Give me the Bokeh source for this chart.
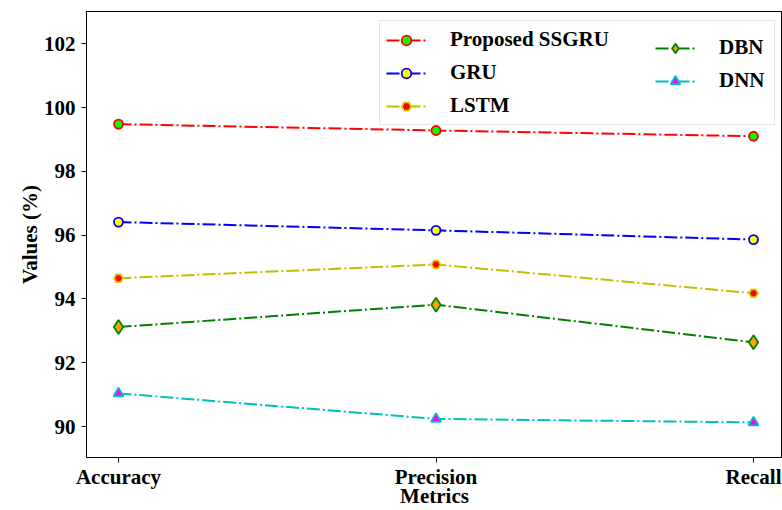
from bokeh.plotting import figure
from bokeh.models import Range1d, FixedTicker, Legend, LegendItem
from bokeh.embed import file_html
from bokeh.resources import INLINE

metrics = ["Accuracy", "Precision", "Recall"]
ssgru = [99.48, 99.28, 99.10]
gru = [96.41, 96.15, 95.86]
lstm = [94.65, 95.08, 94.18]
dbn = [93.12, 93.82, 92.64]
dnn = [91.04, 90.24, 90.13]
yticks = [90, 92, 94, 96, 98, 100, 102]

FONT = "Liberation Serif"
FS = "21px"

xs = list(range(len(metrics)))

p = figure(width=782, height=510, output_backend="svg", toolbar_location=None,
           x_range=Range1d(-0.1008, 2.0913), y_range=Range1d(89.03, 103.01),
           min_border_left=86, min_border_right=0, min_border_top=11,
           min_border_bottom=0)
p.outline_line_color = "black"
p.outline_line_width = 1
p.grid.visible = False
p.background_fill_color = "white"

# axes
p.xaxis.ticker = FixedTicker(ticks=xs)
p.xaxis.major_label_overrides = {i: m for i, m in enumerate(metrics)}
p.yaxis.ticker = FixedTicker(ticks=yticks)
p.xaxis.axis_label = "Metrics"
p.yaxis.axis_label = "Values (%)"
for ax in [p.xaxis[0], p.yaxis[0]]:
    ax.axis_line_color = "black"
    ax.axis_line_width = 1
    ax.major_tick_line_color = "black"
    ax.major_tick_out = 5
    ax.major_tick_in = 0
    ax.minor_tick_line_color = None
    ax.major_label_text_font = FONT
    ax.major_label_text_font_style = "bold"
    ax.major_label_text_font_size = FS
    ax.major_label_text_color = "black"
    ax.axis_label_text_font = FONT
    ax.axis_label_text_font_style = "bold"
    ax.axis_label_text_font_size = FS
    ax.axis_label_text_color = "black"
p.yaxis.major_label_standoff = 6
p.yaxis.axis_label_standoff = -1
p.xaxis.major_label_standoff = 2
p.xaxis.axis_label_standoff = -8

DASH = "13 3 2 3"
series = [
    ("Proposed SSGRU", ssgru, "#ff0000", "circle", "#00ff00", "#ff0000", 9),
    ("GRU", gru, "#0000ff", "circle", "#ffff00", "#0000ff", 9),
    ("LSTM", lstm, "#bfbf00", "hex", "#ff0000", "#d4d400", 9),
    ("DBN", dbn, "#008000", "diamond", "#ffa500", "#008000", 14),
    ("DNN", dnn, "#00bfbf", "triangle", "#ff00ff", "#00bfbf", 10),
]

items = []
for name, ys, col, mk, fill, edge, sz in series:
    l = p.line(xs, ys, line_color=col, line_width=2, line_dash=DASH)
    s = p.scatter(xs, ys, marker=mk, size=sz, fill_color=fill,
                  line_color=edge, line_width=1.8)
    items.append(LegendItem(label=name, renderers=[l, s]))

def mk_legend(its, loc, border, lw):
    lg = Legend(items=its, location=loc, orientation="vertical",
                glyph_width=40, glyph_height=24, spacing=8, padding=6,
                label_standoff=24, label_width=lw,
                label_text_font=FONT, label_text_font_style="bold",
                label_text_font_size=FS, label_text_color="black",
                label_text_baseline="middle", margin=0)
    if border:
        lg.border_line_color = "#cccccc"
        lg.border_line_width = 1
        lg.background_fill_color = "white"
        lg.background_fill_alpha = 0.8
    else:
        lg.border_line_color = None
        lg.background_fill_alpha = 0
    return lg

leg1 = mk_legend(items[:3], (293, 332), True, 318)
leg2 = mk_legend(items[3:], (569, 364), False, 40)
p.add_layout(leg1, "center")
p.add_layout(leg2, "center")

open("out.html", "w").write(file_html(p, INLINE))
